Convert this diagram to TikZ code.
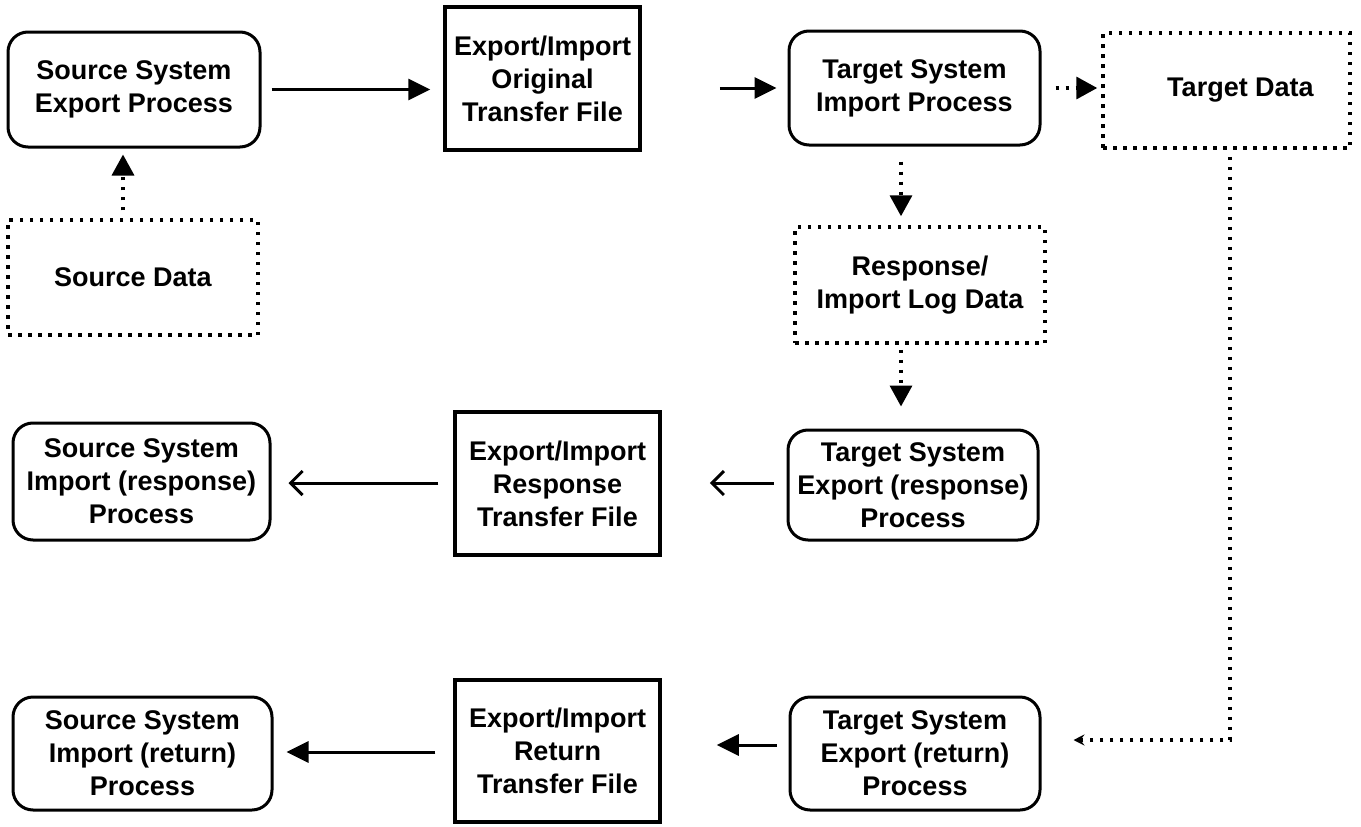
\documentclass[tikz,border=0pt]{standalone}
\usepackage{fontspec}
\setmainfont{Liberation Sans}
\usetikzlibrary{arrows.meta}
\begin{document}
\begin{tikzpicture}[x=1pt,y=-1pt,
  every node/.style={font=\fontsize{27}{33}\selectfont\bfseries, align=center, inner sep=0pt},
  proc/.style={draw, line width=3pt, rounded corners=20pt},
  file/.style={draw, line width=3.5pt},
  datab/.style={draw, line width=3.5pt, dash pattern=on 3.5pt off 6.5pt},
  solidarr/.style={line width=3pt, -{Triangle[length=22pt,width=21pt]}},
  openarr/.style={line width=3pt, -{Straight Barb[length=12pt,width=24pt,line width=3pt]}},
  dotarr/.style={line width=3.5pt, dash pattern=on 3.5pt off 6.5pt, -{Triangle[length=21pt,width=22pt]}},
  smallarr/.style={line width=3.5pt, dash pattern=on 3.5pt off 6.5pt, -{Stealth[length=11pt,width=11pt,inset=4pt]}}
]
\useasboundingbox (0,0) rectangle (1361,827);
\fill[white] (0,0) rectangle (1361,827);

\node[proc, minimum width=252pt, minimum height=115pt] (n1) at (134,89.5) {Source System\\Export Process};
\node[file, minimum width=195pt, minimum height=143pt] (n2) at (542.5,78.5) {Export/Import\\Original\\Transfer File};
\node[proc, minimum width=251pt, minimum height=114pt] (n3) at (914.5,88) {Target System\\Import Process};
\node[datab, minimum width=247pt, minimum height=115pt] (n4) at (1226.5,90.5) {\hspace*{28pt}Target Data};
\node[datab, minimum width=250pt, minimum height=115pt] (n5) at (133,277.5) {Source Data};
\node[datab, minimum width=250pt, minimum height=116pt] (n6) at (920,285) {Response/\\Import Log Data};
\node[proc, minimum width=257pt, minimum height=117pt] (n7) at (141.5,481.5) {Source System\\Import (response)\\Process};
\node[file, minimum width=205pt, minimum height=143pt] (n8) at (557.5,483.5) {Export/Import\\Response\\Transfer File};
\node[proc, minimum width=250pt, minimum height=110pt] (n9) at (913,485) {Target System\\Export (response)\\Process};
\node[proc, minimum width=259pt, minimum height=113pt] (n10) at (142.5,753.5) {Source System\\Import (return)\\Process};
\node[file, minimum width=205pt, minimum height=142pt] (n11) at (557.5,751) {Export/Import\\Return\\Transfer File};
\node[proc, minimum width=250pt, minimum height=113pt] (n12) at (915,753.5) {Target System\\Export (return)\\Process};

\coordinate (ax) at (901,0);
\coordinate (bx) at (123,0);
\coordinate (cx) at (1230,0);
\coordinate (turn) at (1230,740);

\draw[solidarr, shorten <=10pt, shorten >=13pt] (n1.east) -- (n1.east -| n2.west);
\draw[solidarr, shorten <=78pt, shorten >=11pt] (n2.east |- n3.west) -- (n3.west);
\draw[dotarr, shorten <=14pt, shorten >=4pt] (n3.east) -- (n3.east -| n4.west);
\draw[dotarr, shorten <=15pt, shorten >=9pt] (n3.south -| ax) -- (n6.north -| ax);
\draw[dotarr, shorten <=5pt, shorten >=22pt] (n6.south -| ax) -- (n9.north -| ax);
\draw[dotarr, shorten <=8pt, shorten >=6pt] (n5.north -| bx) -- (n1.south -| bx);
\draw[openarr, shorten <=13pt, shorten >=48pt] (n9.west |- 0,483) -- (n8.east |- 0,483);
\draw[openarr, shorten <=15pt, shorten >=17pt] (n8.west |- 0,483) -- (n7.east |- 0,483);
\draw[solidarr, shorten <=12pt, shorten >=55pt] (n12.west |- 0,745) -- (n11.east |- 0,745);
\draw[solidarr, shorten <=18pt, shorten >=13pt] (n11.west |- 0,752) -- (n10.east |- 0,752);
\draw[smallarr, shorten <=7pt, shorten >=32pt] (n4.south -| cx) -- (turn) -- (turn -| n12.east);
\end{tikzpicture}
\end{document}
